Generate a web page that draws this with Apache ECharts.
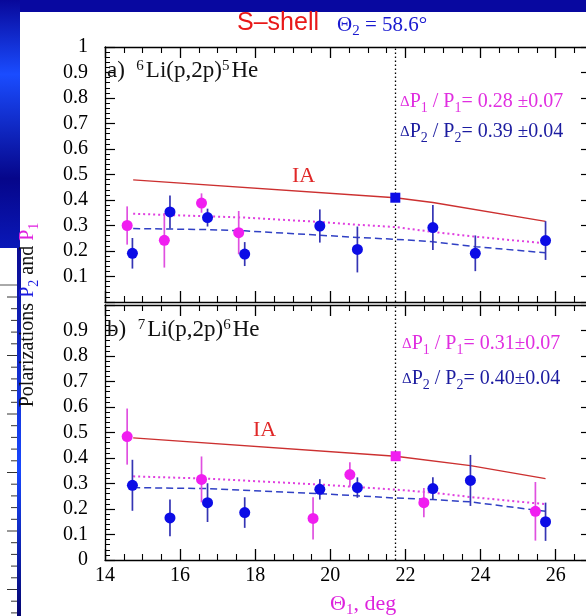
<!DOCTYPE html>
<html>
<head>
<meta charset="utf-8">
<script src="https://cdn.jsdelivr.net/npm/echarts@6/dist/echarts.min.js"></script>
<style>
  html, body { margin: 0; padding: 0; background: #fff; }
  #chart { width: 586px; height: 616px; }
</style>
</head>
<body>
<div id="chart"></div>
<script>
// ---- a) 6Li(p,2p)5He ----
const thetaP1A = [14.59, 15.58, 16.57, 17.56];
const p1A      = [0.300, 0.242, 0.388, 0.272];
const p1ErrA   = [0.075, 0.107, 0.038, 0.085];
const thetaP2A = [14.73, 15.73, 16.73, 17.72, 19.72, 20.72, 22.73, 23.86, 25.73];
const p2A      = [0.191, 0.353, 0.331, 0.188, 0.298, 0.206, 0.292, 0.191, 0.241];
const p2ErrA   = [0.060, 0.065, 0.035, 0.047, 0.065, 0.090, 0.088, 0.070, 0.076];
const iaThetaA = [14.75, 21.73, 22.73, 25.73];
const iaA      = [0.479, 0.409, 0.390, 0.316];
const fitThetaA = [14.75, 16.73, 17.72, 19.72, 20.72, 21.73, 22.73, 23.86, 25.73];
const fitP1A    = [0.346, 0.336, 0.331, 0.314, 0.303, 0.294, 0.275, 0.256, 0.230];
const fitP2A    = [0.288, 0.284, 0.279, 0.262, 0.253, 0.246, 0.236, 0.217, 0.193];
const refThetaA = [21.73];
const refA      = [0.409];

// ---- b) 7Li(p,2p)6He ----
const thetaP1B = [14.59, 16.57, 19.54, 20.52, 22.49, 25.46];
const p1B      = [0.484, 0.316, 0.163, 0.335, 0.225, 0.191];
const p1ErrB   = [0.110, 0.090, 0.083, 0.048, 0.057, 0.115];
const thetaP2B = [14.73, 15.73, 16.73, 17.72, 19.72, 20.72, 22.73, 23.73, 25.73];
const p2B      = [0.293, 0.165, 0.225, 0.186, 0.277, 0.284, 0.280, 0.312, 0.150];
const p2ErrB   = [0.100, 0.072, 0.076, 0.060, 0.040, 0.040, 0.045, 0.100, 0.075];
const iaThetaB = [14.75, 21.74, 23.73, 25.73];
const iaB      = [0.479, 0.407, 0.370, 0.319];
const fitThetaB = [14.75, 16.73, 19.72, 21.74, 22.73, 23.73, 25.73];
const fitP1B    = [0.328, 0.319, 0.296, 0.276, 0.264, 0.247, 0.219];
const fitP2B    = [0.284, 0.280, 0.260, 0.243, 0.237, 0.228, 0.191];
const refThetaB = [21.74];
const refB      = [0.407];

// vertical reference angle, axis ticks
const thetaRef = 21.73;
const xTicks = [14, 16, 18, 20, 22, 24, 26];
const yTicks = [0, 0.1, 0.2, 0.3, 0.4, 0.5, 0.6, 0.7, 0.8, 0.9, 1];

// ---- text ----
const headerShell = 'S–shell';
const headerTheta = ['Θ', '2', ' = 58.6°'];
const labelA = ['a)', '6', 'Li(p,2p)', '5', 'He'];
const labelB = ['b)', '7', 'Li(p,2p)', '6', 'He'];
const ratioA = [['0.28 ', '±', '0.07'], ['0.39 ', '±', '0.04']];
const ratioB = [['0.31', '±', '0.07'], ['0.40', '±', '0.04']];

const SERIF = '"Liberation Serif", "DejaVu Serif", serif';
const SANS = '"Liberation Sans", Arial, sans-serif';
const C_MAG = '#f01ef0';
const C_MAG_LINE = '#e040e0';
const C_MAG_TXT = '#e02ee0';
const C_BLUE = '#0c0ce6';
const C_BLUE_BAR = '#3434b4';
const C_BLUE_LINE = '#3040c4';
const C_BLUE_TXT = '#1c1ca0';
const C_RED = '#cc3030';
const C_RED_TXT = '#e02828';

const zip = (xs, ys) => xs.map((x, i) => [x, ys[i]]);

function xAxisCfg(grid, pos, labels) {
  return {
    type: 'value', gridIndex: grid, position: pos,
    min: xTicks[0], max: 28, interval: 2,
    axisLine: { show: true, onZero: false, lineStyle: { color: '#000', width: 1.3 } },
    axisTick: { show: true, inside: true, length: 11, lineStyle: { color: '#000', width: 1.3 } },
    minorTick: { show: true, splitNumber: 4, length: 6, lineStyle: { color: '#000', width: 1.1 } },
    splitLine: { show: false },
    axisLabel: labels
      ? { show: true, margin: 6, color: '#000', fontFamily: SERIF, fontSize: 20, showMaxLabel: false,
          formatter: v => (xTicks.includes(v) ? String(v) : '') }
      : { show: false }
  };
}

function yAxisCfg(grid, pos, hidden) {
  const left = pos === 'left';
  return {
    type: 'value', gridIndex: grid, position: pos,
    min: yTicks[0], max: yTicks[yTicks.length - 1], interval: 0.1,
    offset: left ? 0 : -42.8,
    axisLine: { show: true, onZero: false, lineStyle: { color: '#000', width: 1.3 } },
    axisTick: { show: true, inside: true, length: left ? 10 : 7, lineStyle: { color: '#000', width: 1.2 } },
    minorTick: { show: left, splitNumber: 5, length: 5, lineStyle: { color: '#000', width: 1 } },
    splitLine: { show: false },
    axisLabel: left
      ? { show: true, margin: 17, color: '#000', fontFamily: SERIF, fontSize: 20,
          formatter: v => (Math.abs(v - hidden) < 1e-9 ? '' : String(+v.toFixed(1))) }
      : { show: false }
  };
}

function errorBars(xs, ys, errs, color, xi, yi) {
  return {
    type: 'custom', xAxisIndex: xi, yAxisIndex: yi, silent: true, z: 3,
    data: xs.map((x, i) => [x, ys[i] - errs[i], ys[i] + errs[i]]),
    encode: { x: 0, y: [1, 2] },
    renderItem: (params, api) => {
      const lo = api.coord([api.value(0), api.value(1)]);
      const hi = api.coord([api.value(0), api.value(2)]);
      return {
        type: 'line',
        shape: { x1: lo[0], y1: lo[1], x2: hi[0], y2: hi[1] },
        style: { stroke: color, lineWidth: 1.7 }
      };
    }
  };
}

function points(xs, ys, color, xi, yi, symbol, size) {
  return {
    type: 'scatter', xAxisIndex: xi, yAxisIndex: yi, z: 5, silent: true,
    symbol: symbol || 'circle', symbolSize: size || 11,
    itemStyle: { color: color, opacity: 1 },
    data: zip(xs, ys)
  };
}

function curve(xs, ys, color, type, width, xi, yi, extra) {
  return Object.assign({
    type: 'line', xAxisIndex: xi, yAxisIndex: yi, z: 2, silent: true,
    symbol: 'none', showSymbol: false,
    lineStyle: { color: color, type: type, width: width },
    data: zip(xs, ys)
  }, extra || {});
}

const refLine = {
  markLine: {
    silent: true, symbol: ['none', 'none'], label: { show: false },
    lineStyle: { color: '#000', type: [1.4, 2.6], width: 1.3 },
    data: [{ xAxis: thetaRef }]
  }
};

const series = [
  // panel a
  curve(iaThetaA, iaA, C_RED, 'solid', 1.4, 0, 0, refLine),
  curve(fitThetaA, fitP1A, C_MAG_LINE, [2, 3], 2, 0, 0),
  curve(fitThetaA, fitP2A, C_BLUE_LINE, [7, 4], 1.5, 0, 0),
  errorBars(thetaP1A, p1A, p1ErrA, '#e050e0', 0, 0),
  errorBars(thetaP2A, p2A, p2ErrA, C_BLUE_BAR, 0, 0),
  points(thetaP1A, p1A, C_MAG, 0, 0),
  points(thetaP2A, p2A, C_BLUE, 0, 0),
  points(refThetaA, refA, C_BLUE, 0, 0, 'rect', 10),
  // panel b
  curve(iaThetaB, iaB, C_RED, 'solid', 1.4, 2, 2, refLine),
  curve(fitThetaB, fitP1B, C_MAG_LINE, [2, 3], 2, 2, 2),
  curve(fitThetaB, fitP2B, C_BLUE_LINE, [7, 4], 1.5, 2, 2),
  errorBars(thetaP1B, p1B, p1ErrB, '#e050e0', 2, 2),
  errorBars(thetaP2B, p2B, p2ErrB, C_BLUE_BAR, 2, 2),
  points(thetaP2B, p2B, C_BLUE, 2, 2),
  points(thetaP1B, p1B, C_MAG, 2, 2),
  points(refThetaB, refB, C_MAG, 2, 2, 'rect', 10)
];

// ---- rich text helpers ----
function tok(size, color, family, shift, padRight) {
  // shift > 0 lowers the token (subscript), shift < 0 raises it (superscript)
  const s = { fontFamily: family || SERIF, fontSize: size, fill: color, color: color, lineHeight: size };
  const pad = shift ? Math.abs(shift) * 2 : 0;
  if (shift || padRight) {
    s.padding = shift > 0 ? [pad, padRight || 0, 0, 0] : [0, padRight || 0, pad, 0];
  }
  return s;
}

function textEl(x, y, text, rich, align) {
  return {
    type: 'text', x: x, y: y, z: 10, silent: true,
    style: {
      text: text, rich: rich,
      align: align || 'left', verticalAlign: 'middle',
      textAlign: align || 'left', textVerticalAlign: 'middle'
    }
  };
}

function panelLabel(parts) {
  return '{m|' + parts[0] + '  }{sp|' + parts[1] + '}{m|' + parts[2] + '}{sp|' + parts[3] + '}{m|' + parts[4] + '}';
}
const panelRich = {
  m: tok(23, '#111', SERIF),
  sp: tok(15, '#111', SERIF, -5, 2)
};

function ratioText(idx, parts) {
  return '{d|Δ}{m|P}{s|' + idx + '}{m| / P}{s|' + idx + '}{m|= ' + parts[0] + '}{pm|' + parts[1] + '}{m|' + parts[2] + '}';
}
function ratioRich(color) {
  return {
    d: tok(15, color, SERIF),
    m: tok(20, color, SERIF),
    s: tok(14, color, SERIF, 6),
    pm: tok(19, color, SERIF)
  };
}

// ---- decorative frame around the plot ----
const deco = [];
deco.push({ type: 'rect', z: -5, silent: true, shape: { x: 0, y: 0, width: 586, height: 12 }, style: { fill: '#0808a0' } });
deco.push({
  type: 'rect', z: -5, silent: true, shape: { x: 0, y: 0, width: 20, height: 248 },
  style: { fill: { type: 'linear', x: 0, y: 0, x2: 0, y2: 1, colorStops: [
    { offset: 0, color: '#08089a' }, { offset: 0.3, color: '#1a4cff' },
    { offset: 0.72, color: '#06068a' }, { offset: 1, color: '#0a18b8' } ] } }
});
deco.push({
  type: 'rect', z: -5, silent: true, shape: { x: 17, y: 248, width: 4, height: 368 },
  style: { fill: { type: 'linear', x: 0, y: 0, x2: 0, y2: 1, colorStops: [
    { offset: 0, color: '#0a0a90' }, { offset: 0.6, color: '#1848ff' }, { offset: 1, color: '#050570' } ] } }
});
deco.push({ type: 'line', z: -5, silent: true, shape: { x1: 0, y1: 285, x2: 17, y2: 285 }, style: { stroke: '#555', lineWidth: 1 } });
for (let i = 0, y = 297; y < 616; i++, y += 11.7) {
  const len = i % 5 === 0 ? 10 : 6;
  deco.push({ type: 'line', z: -5, silent: true, shape: { x1: 17 - len, y1: y, x2: 17, y2: y }, style: { stroke: '#333', lineWidth: 1 } });
}

const shellText = {
  type: 'text', x: 237, y: 23, z: 10, silent: true,
  style: { text: headerShell, fontFamily: SANS, fontSize: 25, font: '25px ' + SANS, fill: '#e81818',
    align: 'left', verticalAlign: 'middle', textAlign: 'left', textVerticalAlign: 'middle' }
};

const yTitle = textEl(28, 315, '{k|Polarizations }{b|P}{bs|2}{k| and }{p|P}{ps|1}', {
  k: tok(20, '#111', SERIF),
  b: tok(20, '#1a1ae0', SERIF), bs: tok(14, '#1a1ae0', SERIF, 6),
  p: tok(20, '#e020e0', SERIF), ps: tok(14, '#e020e0', SERIF, 6)
}, 'center');
yTitle.rotation = Math.PI / 2;

const texts = [
  shellText,
  textEl(337, 25, '{m|' + headerTheta[0] + '}{s|' + headerTheta[1] + '}{m|' + headerTheta[2] + '}',
    { m: tok(21, '#1a1ad0', SERIF), s: tok(15, '#1a1ad0', SERIF, 6) }),
  // panel labels
  textEl(107, 71, panelLabel(labelA), panelRich),
  textEl(107, 330, panelLabel(labelB), panelRich),
  // IA labels
  textEl(292, 176, '{m|IA}', { m: tok(22, C_RED_TXT, SERIF) }),
  textEl(253, 430, '{m|IA}', { m: tok(22, C_RED_TXT, SERIF) }),
  // ratio annotations
  textEl(400, 102, ratioText(1, ratioA[0]), ratioRich(C_MAG_TXT)),
  textEl(400, 132, ratioText(2, ratioA[1]), ratioRich(C_BLUE_TXT)),
  textEl(402, 344, ratioText(1, ratioB[0]), ratioRich(C_MAG_TXT)),
  textEl(402, 379, ratioText(2, ratioB[1]), ratioRich(C_BLUE_TXT)),
  // x axis title
  textEl(330, 604, '{m|Θ}{s|1}{m|, deg}', { m: tok(22, '#dd22dd', SERIF), s: tok(15, '#dd22dd', SERIF, 6) }),
  // y axis title
  yTitle
];

const option = {
  backgroundColor: '#ffffff',
  animation: false,
  grid: [
    { left: 105, top: 47, width: 525.8, height: 255, containLabel: false, outerBoundsMode: 'none' },
    { left: 105, top: 305, width: 525.8, height: 255, containLabel: false, outerBoundsMode: 'none' }
  ],
  xAxis: [
    xAxisCfg(0, 'bottom', false),
    xAxisCfg(0, 'top', false),
    xAxisCfg(1, 'bottom', true),
    xAxisCfg(1, 'top', false)
  ],
  yAxis: [
    yAxisCfg(0, 'left', 0),
    yAxisCfg(0, 'right', 0),
    yAxisCfg(1, 'left', 1),
    yAxisCfg(1, 'right', 1)
  ],
  series: series,
  graphic: { elements: deco.concat(texts) }
};

const chart = echarts.init(document.getElementById('chart'), null, { renderer: 'canvas' });
chart.setOption(option);
</script>
</body>
</html>
